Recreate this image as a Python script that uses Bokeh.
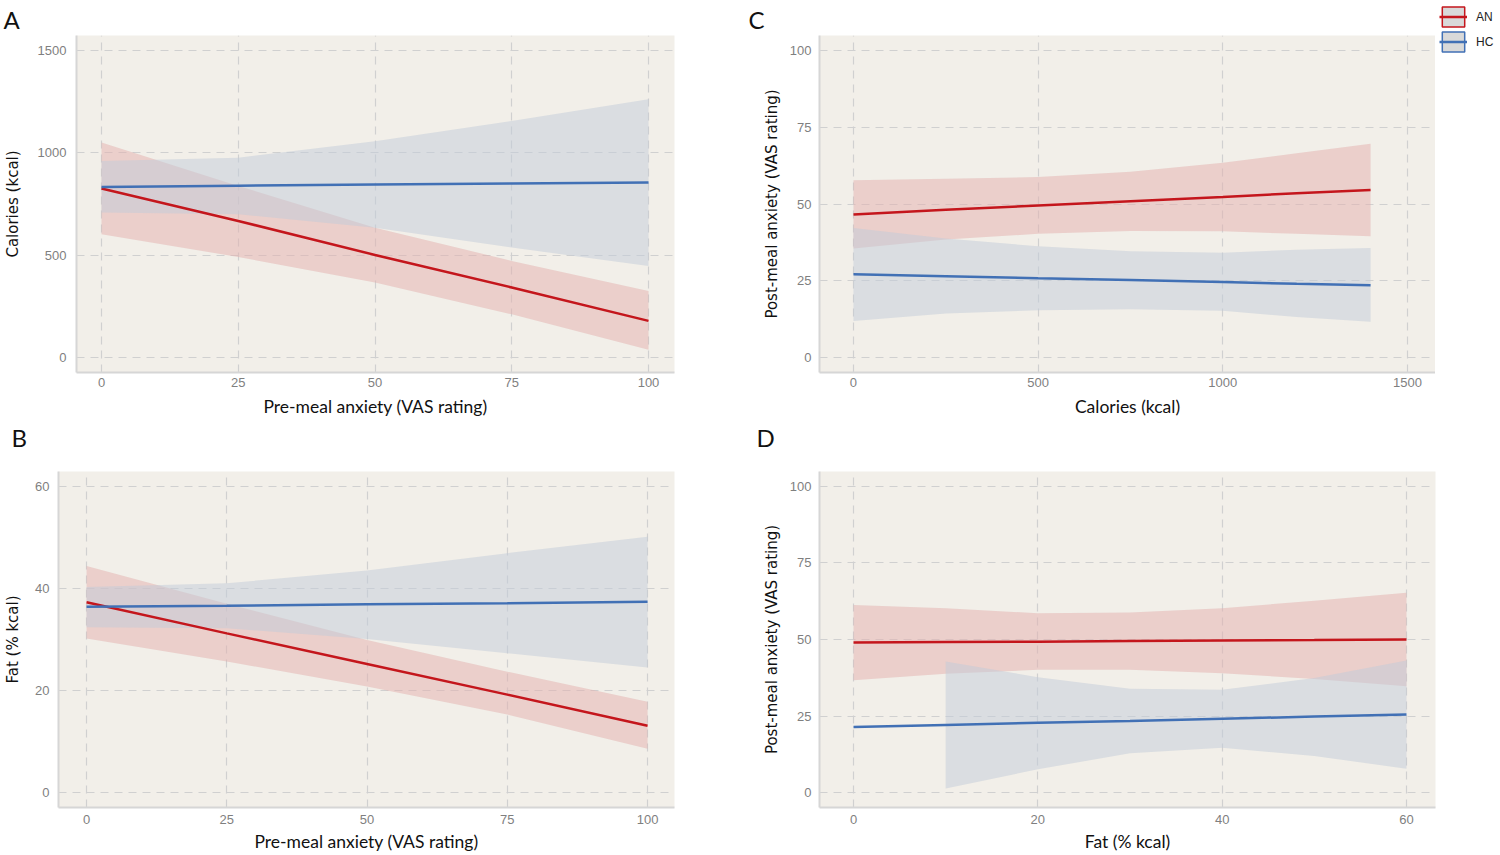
from bokeh.plotting import figure
from bokeh.models import FixedTicker, Range1d, Legend, LegendItem, Title
from bokeh.layouts import column, row
from bokeh.embed import file_html
from bokeh.resources import INLINE

# ---------------- data ----------------
# Panel A: Calories vs pre-meal anxiety
a_x = [0, 25, 50, 75, 100]
a_an_fit = [826, 667, 501, 342, 179]
a_an_upper = [1050, 838, 634, 472, 325]
a_an_lower = [602, 491, 366, 211, 38]
a_hc_fit = [833, 839, 845, 850, 855]
a_hc_upper = [960, 976, 1057, 1155, 1261]
a_hc_lower = [708, 700, 634, 537, 447]

# Panel B: Fat vs pre-meal anxiety
b_x = [0, 25, 50, 75, 100]
b_an_fit = [37.3, 31.2, 25.2, 19.2, 13.1]
b_an_upper = [44.4, 37.0, 29.9, 23.7, 17.8]
b_an_lower = [30.2, 25.7, 20.8, 15.3, 8.6]
b_hc_fit = [36.4, 36.6, 36.9, 37.1, 37.4]
b_hc_upper = [40.3, 41.0, 43.5, 46.9, 50.1]
b_hc_lower = [32.4, 32.2, 30.1, 27.3, 24.5]

# Panel C: post-meal anxiety vs calories
c_x = [0, 250, 500, 750, 1000, 1200, 1400]
c_an_fit = [46.6, 48.1, 49.5, 50.9, 52.3, 53.5, 54.6]
c_an_upper = [57.7, 58.2, 58.8, 60.5, 63.4, 66.5, 69.6]
c_an_lower = [35.5, 38.4, 40.3, 41.2, 41.1, 40.3, 39.5]
c_hc_fit = [27.1, 26.5, 25.8, 25.2, 24.6, 24.0, 23.5]
c_hc_upper = [42.2, 38.8, 36.2, 34.6, 34.1, 35.1, 35.7]
c_hc_lower = [11.9, 14.3, 15.4, 15.7, 15.2, 13.2, 11.6]

# Panel D: post-meal anxiety vs fat
d_x = [0, 10, 20, 30, 40, 50, 60]
d_an_fit = [49.0, 49.2, 49.3, 49.5, 49.7, 49.8, 50.0]
d_an_upper = [61.3, 60.2, 58.6, 58.8, 60.2, 62.7, 65.3]
d_an_lower = [36.7, 38.8, 40.1, 40.1, 39.0, 37.1, 34.7]
d_hc_fit = [21.4, 22.1, 22.8, 23.4, 24.1, 24.8, 25.5]
d_hc_band_x = [10, 20, 30, 40, 50, 60]
d_hc_upper = [42.8, 37.7, 33.9, 33.6, 37.4, 43.1]
d_hc_lower = [1.3, 7.6, 12.8, 14.6, 11.9, 7.8]

groups = ["AN", "HC"]
ticks_anx = [0, 25, 50, 75, 100]
ticks_cal = [0, 500, 1000, 1500]
ticks_fat = [0, 20, 40, 60]

# ---------------- styles ----------------
AN_LINE = "#C4161C"
HC_LINE = "#4170B5"
AN_FILL = "#E3B0AE"
HC_FILL = "#C1CCDA"
PANEL_BG = "#F2EFE9"
GRID = "#D0D0D0"
TICK_FONT = "Liberation Sans"


def make_panel(letter, letter_offset, letter_standoff, spacer, w, h, borders,
               xr, yr, xticks, yticks, xlabel, ylabel,
               x_std, x_lstd, y_std, y_lstd):
    left, right, top, bottom = borders
    p = figure(width=w, height=h, output_backend="svg", toolbar_location=None,
               title=None, x_range=Range1d(*xr), y_range=Range1d(*yr),
               min_border_left=left, min_border_right=right,
               min_border_top=top, min_border_bottom=bottom)
    if spacer > 0:
        p.add_layout(Title(text=" ", text_font_size="1px", standoff=spacer), "above")
    p.add_layout(Title(text=letter, text_font="Lato", text_font_size="24px",
                       text_font_style="normal", text_color="#111111",
                       align="left", offset=letter_offset,
                       standoff=letter_standoff), "above")
    p.background_fill_color = PANEL_BG
    p.border_fill_color = "white"
    p.outline_line_color = None

    p.xaxis.ticker = FixedTicker(ticks=xticks)
    p.yaxis.ticker = FixedTicker(ticks=yticks)
    for ax in (p.xaxis[0], p.yaxis[0]):
        ax.major_tick_line_color = None
        ax.minor_tick_line_color = None
        ax.major_tick_out = 0
        ax.major_tick_in = 0
        ax.minor_tick_out = 0
        ax.minor_tick_in = 0
        ax.axis_line_color = "#D6D6D6"
        ax.axis_line_width = 2
        ax.major_label_text_font = TICK_FONT
        ax.major_label_text_font_size = "13px"
        ax.major_label_text_color = "#7F7F7F"
    p.xaxis.axis_label = xlabel
    p.xaxis.axis_label_text_font = "Lato"
    p.xaxis.axis_label_text_font_size = "17.5px"
    p.xaxis.axis_label_text_font_style = "normal"
    p.xaxis.axis_label_text_color = "#111111"
    p.xaxis.major_label_standoff = x_std
    p.xaxis.axis_label_standoff = x_lstd
    p.yaxis.axis_label = ylabel
    p.yaxis.axis_label_text_font = "DejaVu Sans"
    p.yaxis.axis_label_text_font_size = "15px"
    p.yaxis.axis_label_text_font_style = "normal"
    p.yaxis.axis_label_text_color = "#111111"
    p.yaxis.major_label_standoff = y_std
    p.yaxis.axis_label_standoff = y_lstd

    for g in (p.xgrid[0], p.ygrid[0]):
        g.grid_line_color = GRID
        g.grid_line_dash = "8 6"
        g.grid_line_width = 1.2
    return p


def draw(p, an_x, an_fit, an_up, an_lo, hc_x, hc_fit, hc_bx, hc_up, hc_lo):
    p.varea(x=an_x, y1=an_lo, y2=an_up, fill_color=AN_FILL, fill_alpha=0.5)
    p.varea(x=hc_bx, y1=hc_lo, y2=hc_up, fill_color=HC_FILL, fill_alpha=0.5)
    r_an = p.line(an_x, an_fit, line_color=AN_LINE, line_width=2.5)
    r_hc = p.line(hc_x, hc_fit, line_color=HC_LINE, line_width=2.5)
    return r_an, r_hc


ROW1_H = 420
ROW2_H = 435

# Panel A
pA = make_panel("A", -73, 3, 0, 740, ROW1_H, (76, 66, 35, 48),
                (-4.57, 104.75), (-73.3, 1573), ticks_anx, ticks_cal,
                "Pre-meal anxiety (VAS rating)", "Calories (kcal)",
                5, 6, 10, 13)
draw(pA, a_x, a_an_fit, a_an_upper, a_an_lower,
     a_x, a_hc_fit, a_x, a_hc_upper, a_hc_lower)

# Panel C
pC = make_panel("C", -71, 3, 0, 695, ROW1_H, (79, 0, 35, 48),
                (-92, 1575.8), (-4.9, 104.9), ticks_cal, ticks_anx,
                "Calories (kcal)", "Post-meal anxiety (VAS rating)",
                5, 6, 8, 6)
draw(pC, c_x, c_an_fit, c_an_upper, c_an_lower,
     c_x, c_hc_fit, c_x, c_hc_upper, c_hc_lower)

# Legend panel to the right of C (its own small canvas)
LEG_H = 62
pL = figure(width=65, height=LEG_H, output_backend="svg", toolbar_location=None,
            title=None, x_range=Range1d(0, 1), y_range=Range1d(0, 1),
            x_axis_location=None, y_axis_location=None, min_border=0,
            min_border_left=0, min_border_right=0,
            min_border_top=0, min_border_bottom=0)
pL.outline_line_color = None
pL.background_fill_color = "white"
pL.border_fill_color = "white"
pL.grid.visible = False
nan = float("nan")
items = []
for g, c in zip(groups, [AN_LINE, HC_LINE]):
    box = pL.rect(x=[nan], y=[nan], width=1, height=1, fill_color="#D9D9D9",
                  line_color=c, line_width=1.5)
    ln = pL.line(x=[nan, nan], y=[nan, nan], line_color=c, line_width=2.5)
    items.append(LegendItem(label=g, renderers=[box, ln]))
legend = Legend(items=items, location="top_left",
                glyph_width=28, glyph_height=25, spacing=0,
                padding=0, margin=4, label_standoff=9,
                label_text_font="Liberation Sans", label_text_font_size="12px",
                label_text_color="#222222",
                background_fill_alpha=0, border_line_alpha=0)
pL.add_layout(legend)

# Panel B
pB = make_panel("B", -47, 0, 17, 740, ROW2_H, (58, 66, 49, 48),
                (-5.0, 104.8), (-2.9, 62.9), ticks_anx, ticks_fat,
                "Pre-meal anxiety (VAS rating)", "Fat (% kcal)",
                7, 4, 9, 10)
draw(pB, b_x, b_an_fit, b_an_upper, b_an_lower,
     b_x, b_hc_fit, b_x, b_hc_upper, b_hc_lower)

# Panel D
pD = make_panel("D", -63, 0, 17, 760, ROW2_H, (79, 65, 49, 48),
                (-3.69, 63.15), (-4.9, 104.9), ticks_fat, ticks_anx,
                "Fat (% kcal)", "Post-meal anxiety (VAS rating)",
                7, 4, 8, 6)
draw(pD, d_x, d_an_fit, d_an_upper, d_an_lower,
     d_x, d_hc_fit, d_hc_band_x, d_hc_upper, d_hc_lower)

layout = column(row(pA, pC, column(pL)), row(pB, pD))

open("out.html", "w").write(file_html(layout, INLINE))
